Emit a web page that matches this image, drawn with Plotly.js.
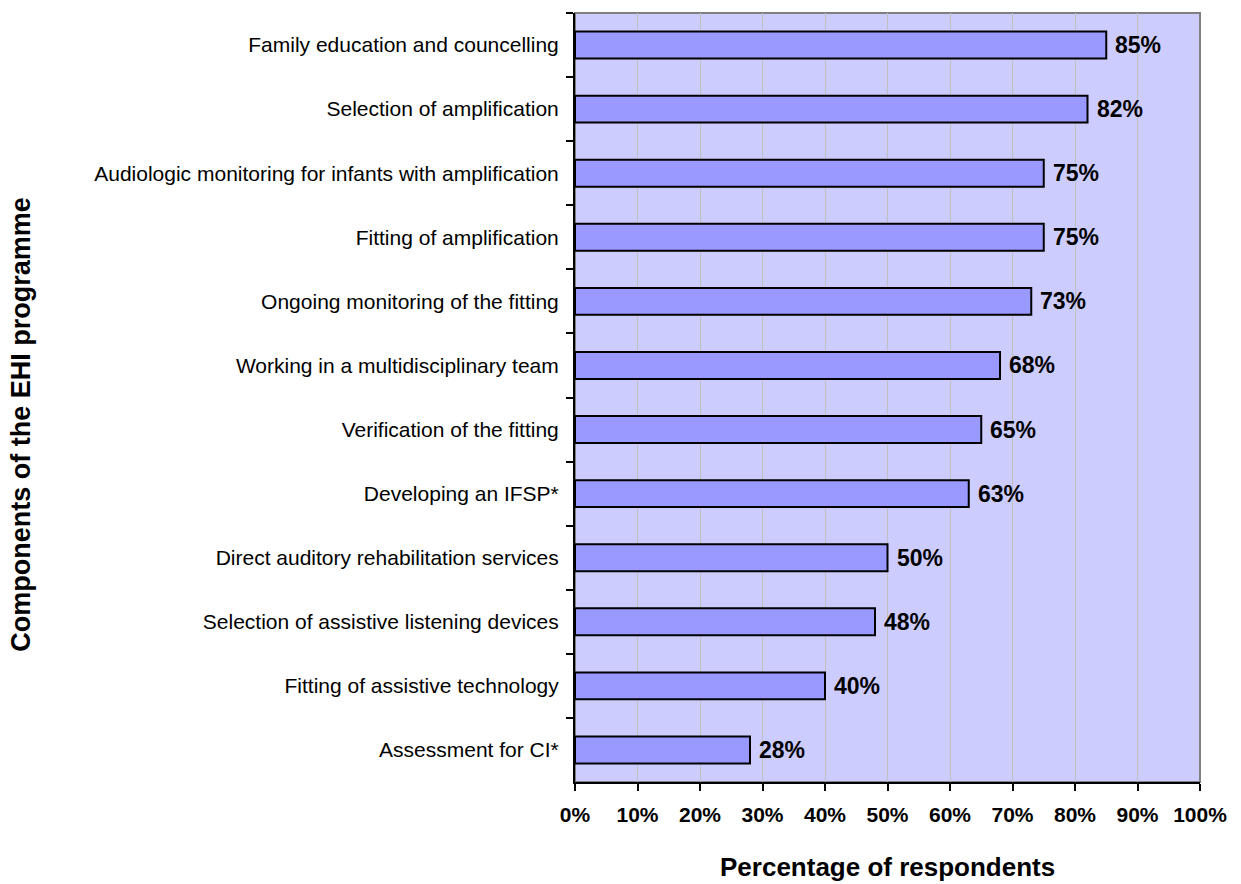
<!DOCTYPE html>
<html>
<head>
<meta charset="utf-8">
<script src="https://cdn.plot.ly/plotly-3.0.1.min.js"></script>
<style>html,body{margin:0;padding:0;background:#fff;}#chart{width:1241px;height:884px;}</style>
</head>
<body>
<div id="chart"></div>
<script>
const categories = [
  "Family education and councelling",
  "Selection of amplification",
  "Audiologic monitoring for infants with amplification",
  "Fitting of amplification",
  "Ongoing monitoring of the fitting",
  "Working in a multidisciplinary team",
  "Verification of the fitting",
  "Developing an IFSP*",
  "Direct auditory rehabilitation services",
  "Selection of assistive listening devices",
  "Fitting of assistive technology",
  "Assessment for CI*"
];
const values = [85, 82, 75, 75, 73, 68, 65, 63, 50, 48, 40, 28];
const xTickVals = [0, 10, 20, 30, 40, 50, 60, 70, 80, 90, 100];
const xTickText = ["0%", "10%", "20%", "30%", "40%", "50%", "60%", "70%", "80%", "90%", "100%"];
const xTitle = "Percentage of respondents";
const yTitle = "Components of the EHI programme";

const FONT = "Liberation Sans, Arial, Helvetica, sans-serif";

const trace = {
  type: "bar",
  orientation: "h",
  x: values,
  y: categories,
  marker: {color: "#9999FF", line: {color: "#000000", width: 2}},
  hoverinfo: "x+y"
};

const valueLabels = values.map((v, i) => ({
  x: v, y: categories[i], xref: "x", yref: "y",
  text: "<b>" + v + "%</b>", showarrow: false,
  xanchor: "left", yanchor: "middle", xshift: 7,
  font: {family: FONT, size: 23, color: "#000"}
}));

const layout = {
  width: 1241, height: 884,
  margin: {l: 575, r: 41, t: 13, b: 102, pad: 0},
  paper_bgcolor: "#ffffff",
  plot_bgcolor: "#CCCCFF",
  showlegend: false,
  bargap: 0.58,
  font: {family: FONT, color: "#000"},
  xaxis: {
    range: [0, 100],
    tickvals: xTickVals, ticktext: xTickText,
    tickfont: {family: FONT, size: 21, color: "#000", weight: "bold"},
    ticks: "outside", ticklen: 7, tickwidth: 2, tickcolor: "#000",
    ticklabelstandoff: 6,
    showline: true, linecolor: "#000", linewidth: 2,
    showgrid: true, gridcolor: "#C0C0C0", gridwidth: 1,
    zeroline: false, fixedrange: true
  },
  yaxis: {
    type: "category",
    categoryorder: "array", categoryarray: categories,
    autorange: "reversed",
    tickson: "boundaries",
    tickfont: {family: FONT, size: 21, color: "#000"},
    ticks: "outside", ticklen: 7, tickwidth: 2, tickcolor: "#000",
    ticklabelstandoff: 10,
    showline: true, linecolor: "#000", linewidth: 2,
    showgrid: false, zeroline: false, fixedrange: true
  },
  shapes: [{
    type: "rect", xref: "paper", yref: "paper", x0: 0, x1: 1, y0: 0, y1: 1,
    line: {color: "#808080", width: 2}, layer: "below"
  }],
  annotations: valueLabels.concat([
    {
      text: "<b>" + xTitle + "</b>", xref: "paper", yref: "paper",
      x: 0.5, y: -0.11, yanchor: "middle", xanchor: "center", showarrow: false,
      font: {family: FONT, size: 26, color: "#000"}
    },
    {
      text: "<b>" + yTitle + "</b>", xref: "paper", yref: "paper",
      x: -0.886, y: 0.465, xanchor: "center", yanchor: "middle", textangle: -90, showarrow: false,
      font: {family: FONT, size: 27, color: "#000"}
    }
  ])
};

Plotly.newPlot("chart", [trace], layout, {displayModeBar: false, staticPlot: true});
</script>
</body>
</html>
